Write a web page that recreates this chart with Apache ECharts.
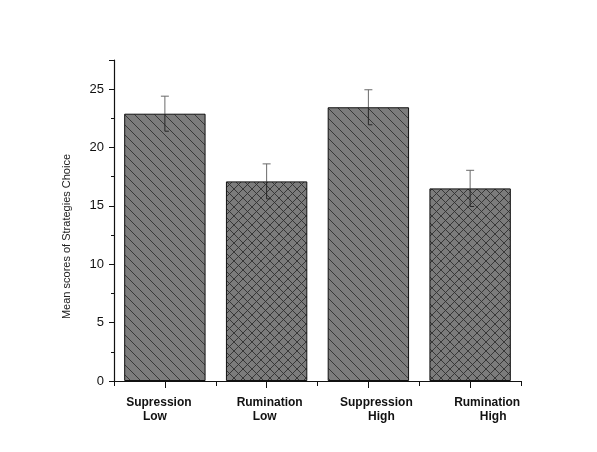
<!DOCTYPE html>
<html>
<head>
<meta charset="utf-8">
<script src="https://cdn.jsdelivr.net/npm/echarts@6/dist/echarts.min.js"></script>
<style>
  html, body { margin: 0; padding: 0; background: #ffffff; }
  #chart { width: 597px; height: 452px; }
</style>
</head>
<body>
<div id="chart"></div>
<script>
// Group names, shown on two lines under each bar
const groupNames = ['Supression', 'Rumination', 'Suppression', 'Rumination'];
const groupLevels = ['Low', 'Low', 'High', 'High'];
// Mean scores and their error margins
const meanScores = [22.9, 17.1, 23.45, 16.5];
const errorMargins = [1.5, 1.5, 1.5, 1.55];
// Hatch style per bar: diagonal or cross
const hatchKinds = ['diag', 'cross', 'diag', 'cross'];
const yTicks = [0, 5, 10, 15, 20, 25];

// Horizontal nudges (px) for the two label lines under each bar
const labelShift = [[-6, -10], [3, -2], [8, 13], [17, 23]];

function makeHatch(kind) {
  const s = kind === 'cross' ? 9 : 10;
  const c = document.createElement('canvas');
  c.width = s; c.height = s;
  const g = c.getContext('2d');
  g.fillStyle = '#7c7c7c';
  g.fillRect(0, 0, s, s);
  g.strokeStyle = '#303030';
  g.lineWidth = 0.9;
  g.beginPath();
  for (const x0 of [-s, 0, s]) {
    g.moveTo(x0, 0); g.lineTo(x0 + s, s);
    if (kind === 'cross') { g.moveTo(x0 + s, 0); g.lineTo(x0, s); }
  }
  g.stroke();
  return c;
}

const categories = groupNames.map((n, i) => n + '\n' + groupLevels[i]);

const rich = {};
labelShift.forEach((pair, i) => {
  pair.forEach((dx, j) => {
    rich['l' + i + '_' + j] = {
      fontFamily: 'Liberation Sans, Arial, sans-serif',
      fontWeight: 'bold',
      fontSize: 12,
      color: '#111',
      lineHeight: 14,
      padding: dx >= 0 ? [0, 0, 0, 2 * dx] : [0, -2 * dx, 0, 0]
    };
  });
});

const chart = echarts.init(document.getElementById('chart'), null, { renderer: 'canvas' });

const option = {
  backgroundColor: '#ffffff',
  animation: false,
  grid: { left: 114, right: 76, top: 60, bottom: 71 },
  xAxis: [{
    type: 'category',
    data: categories,
    boundaryGap: true,
    axisLine: { lineStyle: { color: '#111', width: 1.2 } },
    axisTick: { show: true, length: 5, lineStyle: { color: '#111' } },
    axisLabel: {
      interval: 0,
      hideOverlap: false,
      margin: 15,
      formatter: function (value, idx) {
        return '{l' + idx + '_0|' + groupNames[idx] + '}\n{l' + idx + '_1|' + groupLevels[idx] + '}';
      },
      rich: rich
    }
  }, {
    type: 'category',
    data: categories,
    position: 'bottom',
    boundaryGap: true,
    axisLine: { show: false },
    axisTick: { show: true, alignWithLabel: true, length: 7, lineStyle: { color: '#111' } },
    axisLabel: { show: false }
  }],
  yAxis: {
    type: 'value',
    min: 0,
    max: 27.5,
    interval: 5,
    name: 'Mean scores of Strategies Choice',
    nameLocation: 'middle',
    nameGap: 42,
    nameTextStyle: {
      fontFamily: 'Liberation Sans, Arial, sans-serif',
      fontSize: 11,
      color: '#222',
      padding: [0, 32, 0, 0]
    },
    axisLine: { show: true, lineStyle: { color: '#111', width: 1.2 } },
    axisTick: { show: true, length: 5, lineStyle: { color: '#111' } },
    minorTick: { show: true, splitNumber: 2, length: 3, lineStyle: { color: '#111' } },
    splitLine: { show: false },
    axisLabel: {
      margin: 10,
      showMaxLabel: false,
      fontFamily: 'Liberation Sans, Arial, sans-serif',
      fontSize: 13,
      color: '#111',
      formatter: function (v) { return yTicks.indexOf(v) >= 0 ? String(v) : ''; }
    }
  },
  series: [{
    type: 'bar',
    barWidth: '80%',
    data: meanScores.map((v, i) => ({
      value: v,
      itemStyle: {
        color: { image: makeHatch(hatchKinds[i]), repeat: 'repeat' },
        borderColor: '#111',
        borderWidth: 1
      }
    }))
  }, {
    type: 'custom',
    z: 5,
    data: meanScores.map((v, i) => [i, v - errorMargins[i], v + errorMargins[i], v]),
    renderItem: function (params, api) {
      const lo = api.coord([api.value(0), api.value(1)]);
      const hi = api.coord([api.value(0), api.value(2)]);
      const mid = api.coord([api.value(0), api.value(3)]);
      const half = 4;
      const outer = { stroke: '#6a6a6a', lineWidth: 1 };
      const inner = { stroke: '#262626', lineWidth: 1 };
      return {
        type: 'group',
        children: [
          { type: 'line', shape: { x1: hi[0], y1: hi[1], x2: mid[0], y2: mid[1] }, style: outer },
          { type: 'line', shape: { x1: mid[0], y1: mid[1], x2: lo[0], y2: lo[1] }, style: inner },
          { type: 'line', shape: { x1: hi[0] - half, y1: hi[1], x2: hi[0] + half, y2: hi[1] }, style: outer },
          { type: 'line', shape: { x1: lo[0], y1: lo[1], x2: lo[0] + half, y2: lo[1] }, style: inner }
        ]
      };
    }
  }]
};

chart.setOption(option);
</script>
</body>
</html>
